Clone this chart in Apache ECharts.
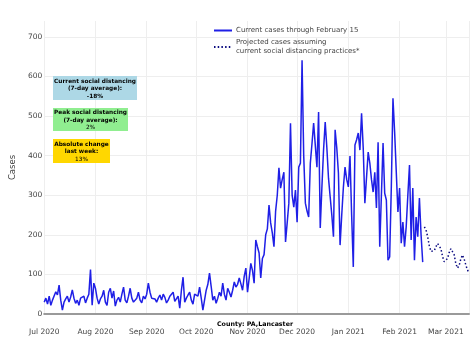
<!DOCTYPE html>
<html><head><meta charset="utf-8">
<script src="https://cdn.jsdelivr.net/npm/echarts@6/dist/echarts.min.js"></script>
<style>html,body{margin:0;padding:0;background:#fff}#c{width:474px;height:357px}</style>
</head><body><div id="c"></div>
<script>
// Daily cases, Jul 1 2020 .. Feb 15 2021
const julCases = [30, 40, 25, 45, 22, 35, 30, 56, 48, 73, 35, 10, 30, 38, 45, 30, 43, 61, 40, 27, 35, 22, 40, 35, 45, 28, 40, 50, 112, 22, 78];
const augCases = [65, 40, 25, 38, 45, 60, 30, 22, 55, 65, 40, 58, 20, 35, 42, 30, 50, 68, 35, 28, 45, 65, 40, 30, 25, 40, 55, 35, 28, 45, 38];
const sepCases = [50, 78, 55, 40, 45, 38, 30, 40, 48, 35, 50, 42, 28, 35, 45, 40, 55, 32, 28, 45, 15, 60, 93, 30, 40, 48, 55, 35, 25, 50];
const octCases = [55, 45, 68, 40, 10, 35, 60, 75, 103, 70, 35, 45, 27, 40, 55, 45, 78, 50, 35, 65, 55, 43, 60, 81, 68, 75, 91, 76, 60, 95, 116];
const novCases = [55, 90, 128, 110, 78, 187, 170, 154, 91, 140, 150, 200, 215, 275, 230, 205, 170, 260, 300, 369, 318, 340, 358, 182, 230, 280, 482, 300, 270, 313];
const decCases = [232, 371, 381, 641, 400, 280, 260, 245, 381, 430, 482, 477, 371, 510, 217, 320, 414, 485, 420, 343, 296, 250, 195, 465, 420, 356, 174, 250, 320, 371, 340];
const janCases = [321, 399, 250, 119, 427, 440, 457, 414, 507, 420, 280, 282, 409, 381, 340, 308, 358, 268, 434, 170, 300, 432, 305, 288, 136, 144, 320, 545, 460, 460, 258];
const febCases = [318, 179, 232, 170, 220, 300, 376, 187, 318, 136, 245, 195, 293, 200, 131];
// Projected daily cases, Feb 16 .. Mar 15 2021
const projectedCases = [220, 212, 195, 172, 158, 154, 160, 170, 178, 179, 165, 145, 132, 129, 140, 155, 165, 167, 150, 128, 116, 122, 138, 149, 140, 125, 112, 104];
const yTicks = [0, 100, 200, 300, 400, 500, 600, 700];
const monthNames = ['Jan','Feb','Mar','Apr','May','Jun','Jul','Aug','Sep','Oct','Nov','Dec'];
const seriesNames = ['Current cases through February 15', 'Projected cases assuming\ncurrent social distancing practices*'];

const currentCases = [].concat(julCases, augCases, sepCases, octCases, novCases, decCases, janCases, febCases);
const dayTime = i => new Date(2020, 6, 1 + i).getTime();
const currentData = currentCases.map((v, i) => [dayTime(i), v]);
const projData = projectedCases.map((v, i) => [dayTime(currentCases.length + i), v]);

const FONT = 'DejaVu Sans';
const chart = echarts.init(document.getElementById('c'), null, {renderer: 'canvas'});
chart.setOption({
  animation: false,
  backgroundColor: '#fff',
  grid: {left: 40, right: 5, top: 21, bottom: 43, containLabel: false},
  legend: {
    orient: 'vertical', left: 213, top: 26, padding: 0, itemGap: 3,
    itemWidth: 18, itemHeight: 8,
    itemStyle: {opacity: 0},
    textStyle: {fontFamily: FONT, fontSize: 7, color: '#444', lineHeight: 9, padding: [0,0,0,-1]},
    data: seriesNames
  },
  xAxis: {
    type: 'time',
    min: dayTime(0), max: new Date(2021, 2, 15).getTime(),
    minInterval: 28 * 86400000, maxInterval: 31 * 86400000,
    axisLine: {show: true, lineStyle: {color: '#9a9a9a', width: 2}},
    axisTick: {show: false},
    splitLine: {show: true, lineStyle: {color: '#eeeeee', width: 1}},
    axisLabel: {
      fontFamily: FONT, fontSize: 7.5, color: '#444', margin: 14,
      showMaxLabel: false,
      formatter: v => { const d = new Date(v); return monthNames[d.getMonth()] + ' ' + d.getFullYear(); }
    }
  },
  yAxis: {
    type: 'value', min: 0, max: 740, interval: 100,
    name: 'Cases', nameLocation: 'middle', nameGap: 26,
    nameTextStyle: {fontFamily: FONT, fontSize: 8.5, color: '#444'},
    axisLine: {show: false}, axisTick: {show: false},
    splitLine: {show: true, showMaxLine: false, lineStyle: {color: '#eeeeee', width: 1}},
    axisLabel: {fontFamily: FONT, fontSize: 7.5, color: '#444', margin: 2,
      formatter: v => (yTicks.indexOf(v) >= 0 ? String(v) : '')}
  },
  series: [
    {name: seriesNames[0], type: 'line', data: currentData, symbol: 'none', showSymbol: false,
     lineStyle: {color: '#1f1fe6', width: 1.5}, itemStyle: {color: '#1f1fe6'}},
    {name: seriesNames[1], type: 'line', data: projData, symbol: 'none', showSymbol: false,
     lineStyle: {color: '#0a0a80', width: 1.5, type: [1.5, 2.2]}, itemStyle: {color: '#0a0a80'}}
  ],
  graphic: [
    {type: 'rect', shape: {x: 53, y: 76, width: 84, height: 24}, style: {fill: '#add8e6'}, z: 10},
    {type: 'text', z: 11, style: {x: 95, y: 88.5, align: 'center', verticalAlign: 'middle',
      text: '{b|Current social distancing}\n{b|(7-day average):}\n{b|-18%}',
      rich: {b: {fontFamily: FONT, fontSize: 5.8, fontWeight: 'bold', fill: '#000', lineHeight: 7.5}}}},
    {type: 'rect', shape: {x: 53, y: 108, width: 75, height: 23}, style: {fill: '#90ee90'}, z: 10},
    {type: 'text', z: 11, style: {x: 90.5, y: 120, align: 'center', verticalAlign: 'middle',
      text: '{b|Peak social distancing}\n{b|(7-day average):}\n{n|2%}',
      rich: {b: {fontFamily: FONT, fontSize: 5.8, fontWeight: 'bold', fill: '#000', lineHeight: 7.5},
             n: {fontFamily: FONT, fontSize: 5.8, fill: '#000', lineHeight: 7.5}}}},
    {type: 'rect', shape: {x: 53, y: 139, width: 57, height: 24}, style: {fill: '#ffd700'}, z: 10},
    {type: 'text', z: 11, style: {x: 81.5, y: 151.5, align: 'center', verticalAlign: 'middle',
      text: '{b|Absolute change}\n{b|last week:}\n{n|13%}',
      rich: {b: {fontFamily: FONT, fontSize: 5.8, fontWeight: 'bold', fill: '#000', lineHeight: 7.5},
             n: {fontFamily: FONT, fontSize: 5.8, fill: '#000', lineHeight: 7.5}}}},
    {type: 'text', z: 11, style: {x: 255, y: 324.5, align: 'center', verticalAlign: 'middle',
      text: 'County: PA,Lancaster', fontFamily: FONT, fontSize: 6.3, fontWeight: 'bold', fill: '#000'}}
  ]
});
</script></body></html>
